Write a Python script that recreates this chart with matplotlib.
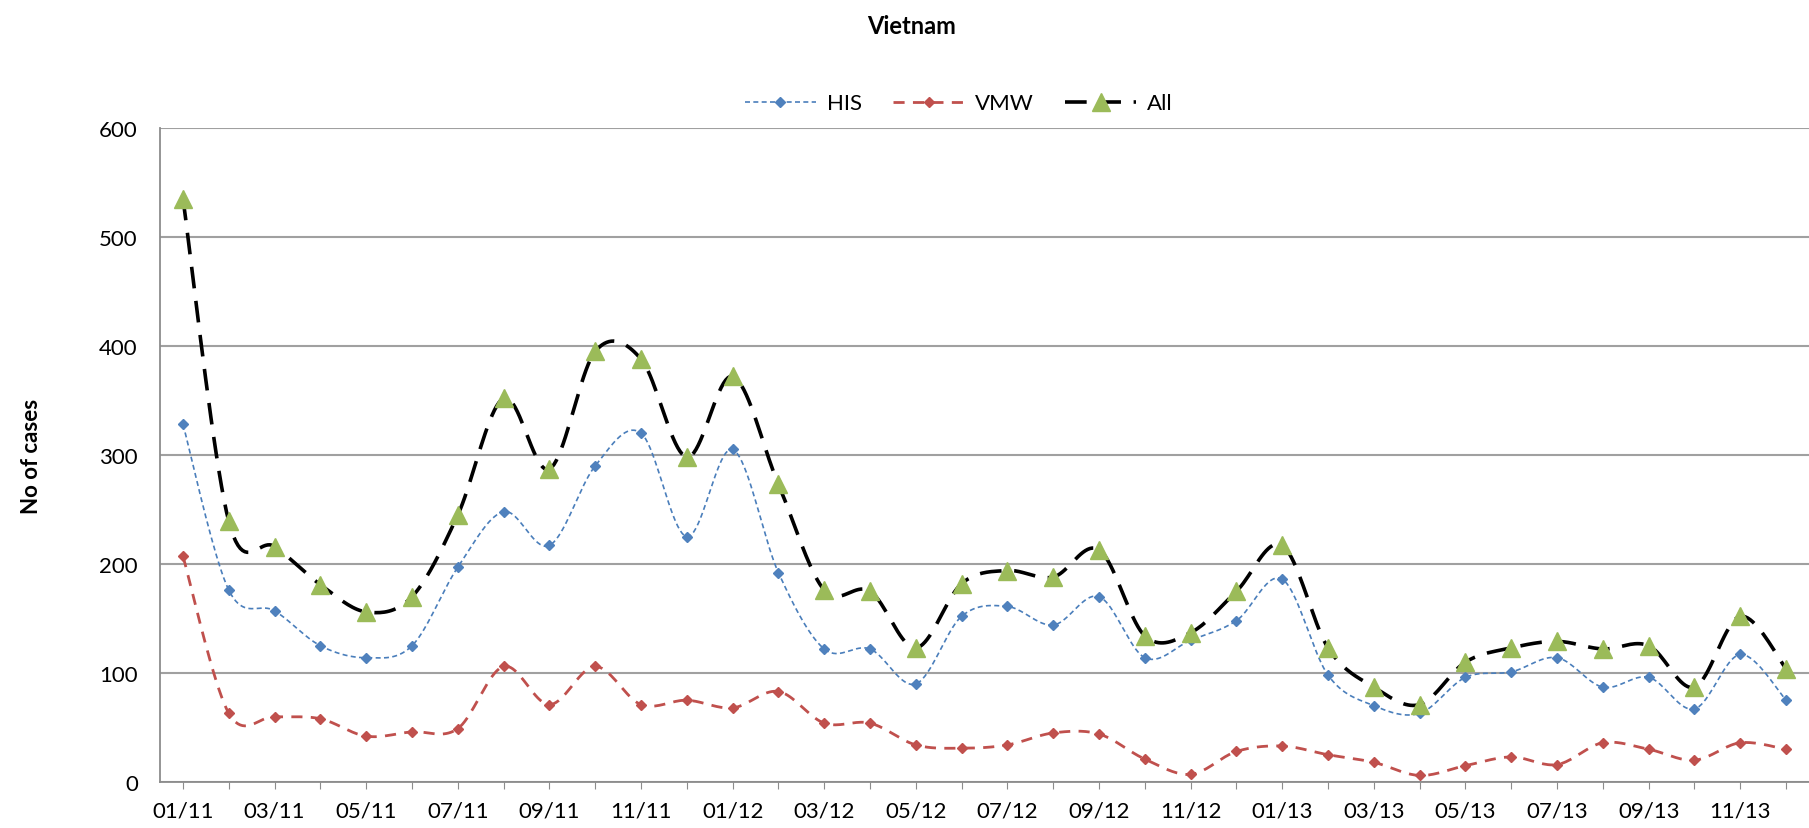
import numpy as np
import matplotlib.pyplot as plt

months = ["01/11", "02/11", "03/11", "04/11", "05/11", "06/11", "07/11", "08/11", "09/11", "10/11", "11/11", "12/11",
          "01/12", "02/12", "03/12", "04/12", "05/12", "06/12", "07/12", "08/12", "09/12", "10/12", "11/12", "12/12",
          "01/13", "02/13", "03/13", "04/13", "05/13", "06/13", "07/13", "08/13", "09/13", "10/13", "11/13", "12/13"]

his = [328, 176, 157, 125, 114, 125, 197, 248, 217, 290, 320, 225,
       305, 192, 122, 122, 90, 152, 161, 144, 170, 114, 130, 148,
       186, 98, 70, 63, 96, 101, 114, 87, 96, 67, 117, 75]
vmw = [207, 63, 60, 58, 42, 46, 49, 106, 71, 106, 71, 75,
       68, 83, 54, 54, 34, 31, 34, 45, 44, 21, 7, 28,
       33, 25, 18, 6, 15, 23, 16, 36, 30, 20, 36, 30]
all_cases = [535, 239, 216, 181, 156, 170, 245, 352, 287, 395, 388, 298,
             372, 273, 176, 175, 123, 182, 194, 188, 213, 134, 137, 175,
             217, 123, 87, 71, 110, 123, 129, 122, 125, 87, 152, 104]


def smooth(y, n=20):
    # excel style smoothed line (catmull-rom bezier through the points)
    y = np.asarray(y, dtype=float)
    x = np.arange(len(y), dtype=float)
    px = np.concatenate([[x[0]], x, [x[-1]]])
    py = np.concatenate([[y[0]], y, [y[-1]]])
    xs, ys = [], []
    t = np.linspace(0, 1, n, endpoint=False)
    for i in range(len(y) - 1):
        p0 = np.array([px[i], py[i]])
        p1 = np.array([px[i + 1], py[i + 1]])
        p2 = np.array([px[i + 2], py[i + 2]])
        p3 = np.array([px[i + 3], py[i + 3]])
        c1 = p1 + (p2 - p0) / 6
        c2 = p2 - (p3 - p1) / 6
        for tt in t:
            b = ((1 - tt) ** 3) * p1 + 3 * ((1 - tt) ** 2) * tt * c1 + 3 * (1 - tt) * tt ** 2 * c2 + tt ** 3 * p2
            xs.append(b[0])
            ys.append(b[1])
    xs.append(x[-1])
    ys.append(y[-1])
    return np.array(xs), np.array(ys)


plt.rcParams['font.family'] = ['Lato', 'DejaVu Sans']

fig = plt.figure(figsize=(18.09, 8.29), dpi=100)
ax = fig.add_axes([0.0885, 0.0555, 0.9115, 0.789])

x = np.arange(len(months))
blue_line = "#4A7EBB"
blue_mark = "#4F81BD"
red = "#C0504D"
green = "#9BBB59"

sx, sy = smooth(his)
ax.plot(sx, sy, color=blue_line, lw=1.2, dashes=(3, 2))
ax.plot(x, his, ls="none", marker="D", ms=5.5, color=blue_mark)

sx, sy = smooth(vmw)
ax.plot(sx, sy, color=red, lw=2, dashes=(4, 3))
ax.plot(x, vmw, ls="none", marker="D", ms=5.5, color=red)

sx, sy = smooth(all_cases)
ax.plot(sx, sy, color="black", lw=2.6, dashes=(6, 3.5))
ax.plot(x, all_cases, ls="none", marker="^", ms=13, color=green)

# legend proxies
h1, = ax.plot([], [], color=blue_line, lw=1.2, dashes=(3, 2), marker="D", ms=5.5, mfc=blue_mark, mec=blue_mark)
h2, = ax.plot([], [], color=red, lw=2, dashes=(4, 3), marker="D", ms=5.5)
h3, = ax.plot([], [], color="black", lw=2.6, dashes=(6, 3.5), marker="^", ms=13, mfc=green, mec=green)
fig.legend([h1, h2, h3], ["HIS", "VMW", "All"], loc="center", bbox_to_anchor=(0.53, 0.874),
           ncol=3, frameon=False, fontsize=16, handlelength=3.2, columnspacing=1.4, handletextpad=0.5)

ax.set_xlim(-0.5, 35.5)
ax.set_ylim(0, 600)
ax.set_yticks(range(0, 601, 100))
ax.set_xticks(x)
ax.set_xticklabels([m if i % 2 == 0 else "" for i, m in enumerate(months)])
ax.yaxis.grid(True, color="#A0A0A0", lw=1.5)
ax.set_axisbelow(True)
for s in ["top", "right"]:
    ax.spines[s].set_visible(False)
for s in ["left", "bottom"]:
    ax.spines[s].set_color("#8C8C8C")
    ax.spines[s].set_linewidth(1.3)
ax.tick_params(axis="y", length=0, labelsize=16, pad=16)
ax.tick_params(axis="x", length=5, color="#8C8C8C", labelsize=16, direction="out", pad=8)

ax.set_ylabel("No of cases", fontsize=16, fontweight="bold", labelpad=41)
fig.suptitle("Vietnam", x=0.504, y=0.982, fontsize=17, fontweight="bold")

fig.savefig("out.png", dpi=100)
